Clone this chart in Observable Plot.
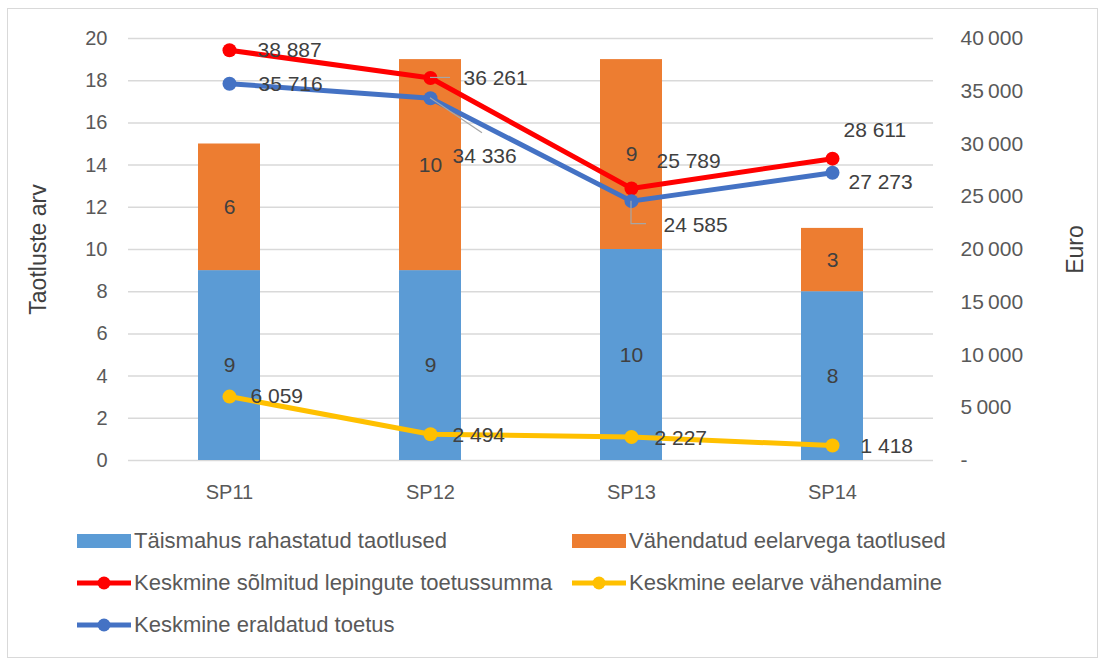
<!DOCTYPE html>
<html>
<head>
<meta charset="utf-8">
<script src="https://cdn.jsdelivr.net/npm/d3@7"></script>
<script src="https://cdn.jsdelivr.net/npm/@observablehq/plot@0.6"></script>
<style>
  html, body { margin: 0; padding: 0; background: #fff; }
  #wrap { position: relative; width: 1109px; height: 667px; font-family: "Liberation Sans", Arial, sans-serif; overflow: hidden; }
  #border { position: absolute; left: 7px; top: 8px; width: 1091px; height: 650px; border: 1.5px solid #d9d9d9; box-sizing: border-box; }
  #chart { position: absolute; left: 0; top: 0; }
  .leg { position: absolute; display: flex; align-items: center; font-size: 22px; color: #595959; white-space: nowrap; height: 30px; }
  .leg .sw { margin-right: 3px; display: block; }
</style>
</head>
<body>
<div id="wrap">
  <div id="border"></div>
  <div id="chart"></div>
  <div id="legend"></div>
</div>
<script>
const categories = ["SP11", "SP12", "SP13", "SP14"];
const fullFunded = [9, 9, 10, 8];
const reducedBudget = [6, 10, 9, 3];
const avgContract = [38887, 36261, 25789, 28611];
const avgAllocated = [35716, 34336, 24585, 27273];
const avgReduction = [6059, 2494, 2227, 1418];
const countTicks = [0, 2, 4, 6, 8, 10, 12, 14, 16, 18, 20];
const euroTicks = [0, 5000, 10000, 15000, 20000, 25000, 30000, 35000, 40000];
const barSeries = ["Täismahus rahastatud taotlused", "Vähendatud eelarvega taotlused"];
const lineSeries = ["Keskmine sõlmitud lepingute toetussumma", "Keskmine eelarve vähendamine", "Keskmine eraldatud toetus"];
const axisTitles = ["Taotluste arv", "Euro"];

const BLUE = "#5B9BD5", ORANGE = "#ED7D31", RED = "#FF0000", YELLOW = "#FFC000", LBLUE = "#4472C4";
const EURO_PER_UNIT = euroTicks[euroTicks.length - 1] / countTicks[countTicks.length - 1];
const fmtEuro = v => v === 0 ? "-" : d3.format(",")(v).replace(/,/g, "\u2009");
const fmtLabel = v => d3.format(",")(v).replace(/,/g, " ");

const barRows = [];
categories.forEach((c, i) => {
  barRows.push({cat: c, series: barSeries[0], value: fullFunded[i], mid: fullFunded[i] / 2});
  barRows.push({cat: c, series: barSeries[1], value: reducedBudget[i], mid: fullFunded[i] + reducedBudget[i] / 2});
});

const lines = [
  {values: avgContract, color: RED, offsets: [[28, 0], [33, 0], [25, -27], [11, -28]]},
  {values: avgReduction, color: YELLOW, offsets: [[21, 0], [22, 1], [23, 1], [28, 1]]},
  {values: avgAllocated, color: LBLUE, offsets: [[29, 1], [22, 58], [32, 24], [16, 9]]}
];

const marks = [
  Plot.gridY(countTicks, {stroke: "#d9d9d9", strokeOpacity: 1, strokeWidth: 1.5}),
  Plot.axisY(countTicks, {anchor: "left", tickSize: 0, tickPadding: 21, label: null}),
  Plot.axisY(euroTicks.map(v => v / EURO_PER_UNIT), {anchor: "right", tickSize: 0, tickPadding: 27, tickFormat: d => fmtEuro(d * EURO_PER_UNIT), label: null, fontSize: 21}),
  Plot.axisX(categories, {tickSize: 0, tickPadding: 24, label: null}),
  Plot.barY(barRows, Plot.stackY({x: "cat", y: "value", fill: "series"})),
  Plot.text(barRows, {x: "cat", y: "mid", text: d => String(d.value), fill: "#404040", fontSize: 21}),
  Plot.text(axisTitles.slice(0, 1), {frameAnchor: "left", dx: -90, rotate: -90, textAnchor: "middle", text: d => d, fill: "#404040", fontSize: 23}),
  Plot.text(axisTitles.slice(1, 2), {frameAnchor: "right", dx: 142, rotate: -90, textAnchor: "middle", text: d => d, fill: "#404040", fontSize: 23})
];

lines.forEach(s => {
  const rows = categories.map((c, i) => ({cat: c, y: s.values[i] / EURO_PER_UNIT, v: s.values[i]}));
  marks.push(Plot.line(rows, {x: "cat", y: "y", stroke: s.color, strokeWidth: 5}));
  marks.push(Plot.dot(rows, {x: "cat", y: "y", fill: s.color, r: 7}));
});
lines.forEach(s => {
  categories.forEach((c, i) => {
    const row = {cat: c, y: s.values[i] / EURO_PER_UNIT, v: s.values[i]};
    marks.push(Plot.text([row], {x: "cat", y: "y", text: d => fmtLabel(d.v), textAnchor: "start",
      dx: s.offsets[i][0], dy: s.offsets[i][1], fill: "#404040", fontSize: 21}));
  });
});

const chart = Plot.plot({
  width: 1109,
  height: 500,
  marginLeft: 128,
  marginRight: 176,
  marginTop: 38,
  marginBottom: 40,
  style: {fontFamily: '"Liberation Sans", Arial, sans-serif', fontSize: "20px", color: "#595959", background: "transparent", overflow: "visible"},
  x: {domain: categories, paddingInner: 0.69, paddingOuter: 0.345},
  y: {domain: [0, 20]},
  color: {domain: barSeries, range: [BLUE, ORANGE]},
  marks
});
document.getElementById("chart").appendChild(chart);

// leader lines (Excel callout connectors), positioned through the plot's scales
const xs = chart.scale("x"), ys = chart.scale("y");
const px = c => xs.apply(c) + xs.bandwidth / 2;
const py = v => ys.apply(v / EURO_PER_UNIT);
const leaders = [
  {cat: "SP12", v: avgContract[1], path: (x, y) => `M${x},${y}H${x + 20}`},
  {cat: "SP12", v: avgAllocated[1], path: (x, y) => `M${x},${y}L${x + 52},${y + 35}`},
  {cat: "SP13", v: avgAllocated[2], path: (x, y) => `M${x},${y}V${y + 23}H${x + 15}`}
];
const g = d3.select(chart).append("g").attr("fill", "none").attr("stroke", "#a6a6a6").attr("stroke-width", 1.2);
leaders.forEach(l => g.append("path").attr("d", l.path(px(l.cat), py(l.v))));

// legend
const legend = document.getElementById("legend");
const legItems = [
  {label: barSeries[0], kind: "rect", color: BLUE, left: 77, top: 526},
  {label: barSeries[1], kind: "rect", color: ORANGE, left: 572, top: 526},
  {label: lineSeries[0], kind: "line", color: RED, left: 77, top: 568},
  {label: lineSeries[1], kind: "line", color: YELLOW, left: 572, top: 568},
  {label: lineSeries[2], kind: "line", color: LBLUE, left: 77, top: 610}
];
legItems.forEach(it => {
  const d = document.createElement("div");
  d.className = "leg";
  d.style.left = it.left + "px";
  d.style.top = it.top + "px";
  const sw = it.kind === "rect"
    ? `<svg class="sw" width="54" height="14"><rect x="0" y="0" width="54" height="14" fill="${it.color}"/></svg>`
    : `<svg class="sw" width="54" height="16"><line x1="0" x2="54" y1="8" y2="8" stroke="${it.color}" stroke-width="5"/><circle cx="27" cy="8" r="6.5" fill="${it.color}"/></svg>`;
  d.innerHTML = sw + `<span>${it.label}</span>`;
  legend.appendChild(d);
});
</script>
</body>
</html>
